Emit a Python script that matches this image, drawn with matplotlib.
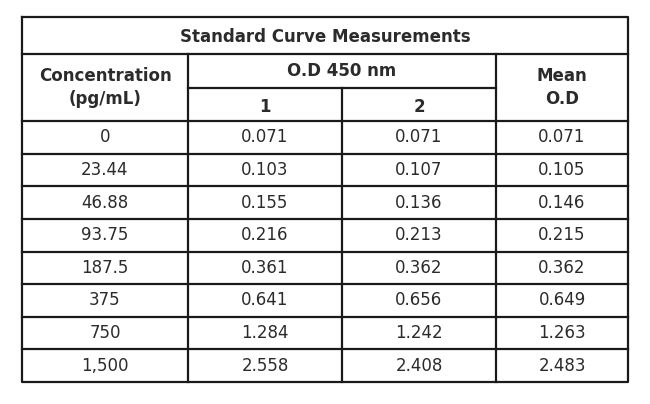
import matplotlib.pyplot as plt

title = "Standard Curve Measurements"
col_head = ["Concentration\n(pg/mL)", "O.D 450 nm", "Mean\nO.D"]
rep_head = ["1", "2"]
conc = ["0", "23.44", "46.88", "93.75", "187.5", "375", "750", "1,500"]
od1 = ["0.071", "0.103", "0.155", "0.216", "0.361", "0.641", "1.284", "2.558"]
od2 = ["0.071", "0.107", "0.136", "0.213", "0.362", "0.656", "1.242", "2.408"]
mean_od = ["0.071", "0.105", "0.146", "0.215", "0.362", "0.649", "1.263", "2.483"]

# layout in pixels
xs = [22, 188, 342, 496, 628]
y_top, y_title, y_sub, y_head = 17, 54, 88, 121
row_h = (382 - y_head) / len(conc)
lc = "#1a1a1a"
tc = "#2b2b2b"

fig = plt.figure(figsize=(6.5, 4.04), dpi=100)
ax = fig.add_axes([0, 0, 1, 1])
ax.set_xlim(0, 650)
ax.set_ylim(404, 0)
ax.axis("off")

y_bot = y_head + row_h * len(conc)
lw = 1.6
# outer box
ax.plot([xs[0], xs[-1], xs[-1], xs[0], xs[0]], [y_top, y_top, y_bot, y_bot, y_top], color=lc, lw=lw)
ax.plot([xs[0], xs[-1]], [y_title, y_title], color=lc, lw=lw)
ax.plot([xs[1], xs[3]], [y_sub, y_sub], color=lc, lw=lw)
for x in [xs[1], xs[3]]:
    ax.plot([x, x], [y_title, y_bot], color=lc, lw=lw)
ax.plot([xs[2], xs[2]], [y_sub, y_bot], color=lc, lw=lw)
for i in range(len(conc)):
    y = y_head + row_h * i
    ax.plot([xs[0], xs[-1]], [y, y], color=lc, lw=lw)

fam = "DejaVu Sans"
fs = 12
ax.text((xs[0] + xs[-1]) / 2, (y_top + y_title) / 2 + 1, title, ha="center", va="center",
        fontsize=fs, fontweight="bold", color=tc, family=fam)
ax.text((xs[0] + xs[1]) / 2, (y_title + y_head) / 2, col_head[0], ha="center", va="center",
        fontsize=fs, fontweight="bold", color=tc, family=fam, linespacing=1.35)
ax.text((xs[1] + xs[3]) / 2, (y_title + y_sub) / 2, col_head[1], ha="center", va="center",
        fontsize=fs, fontweight="bold", color=tc, family=fam)
ax.text((xs[3] + xs[4]) / 2, (y_title + y_head) / 2, col_head[2], ha="center", va="center",
        fontsize=fs, fontweight="bold", color=tc, family=fam, linespacing=1.35)
for j, lab in enumerate(rep_head):
    ax.text((xs[1 + j] + xs[2 + j]) / 2, (y_sub + y_head) / 2 + 2, lab, ha="center", va="center",
            fontsize=fs, fontweight="bold", color=tc, family=fam)

cols = [conc, od1, od2, mean_od]
for j, col in enumerate(cols):
    cx = (xs[j] + xs[j + 1]) / 2
    for i, val in enumerate(col):
        cy = y_head + row_h * (i + 0.5)
        ax.text(cx, cy, val, ha="center", va="center", fontsize=fs, color=tc, family=fam)

fig.savefig("out.png", dpi=100)
